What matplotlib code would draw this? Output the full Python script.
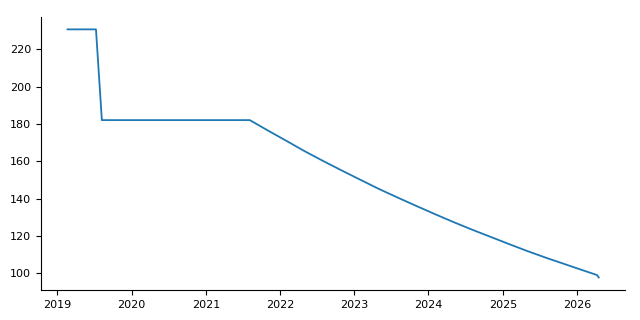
import matplotlib
matplotlib.use("Agg")
import matplotlib.pyplot as plt
import pandas as pd

dates = [
    "2019-02-20", "2019-07-10", "2019-08-08", "2021-08-05",
    "2021-11-01", "2022-02-01", "2022-05-01", "2022-08-01", "2022-11-01",
    "2023-02-01", "2023-05-01", "2023-08-01", "2023-11-01",
    "2024-02-01", "2024-05-01", "2024-08-01", "2024-11-01",
    "2025-02-01", "2025-05-01", "2025-08-01", "2025-11-01",
    "2026-02-01", "2026-04-10", "2026-04-18",
]
values = [
    230.7, 230.7, 182.1, 182.1,
    176.6, 171.0, 165.5, 160.2, 155.1,
    150.1, 145.3, 140.7, 136.2,
    131.8, 127.6, 123.5, 119.6,
    115.7, 112.0, 108.4, 105.0,
    101.6, 99.1, 97.8,
]

x = pd.to_datetime(dates)

fig = plt.figure(figsize=(6.4, 3.2), dpi=100)
ax = fig.add_axes([0.064, 0.094, 0.913, 0.853])
ax.plot(x, values, color="#1f77b4", linewidth=1.3)
ax.spines["top"].set_visible(False)
ax.spines["right"].set_visible(False)
ax.tick_params(labelsize=8)
fig.savefig("out.png", dpi=100)
